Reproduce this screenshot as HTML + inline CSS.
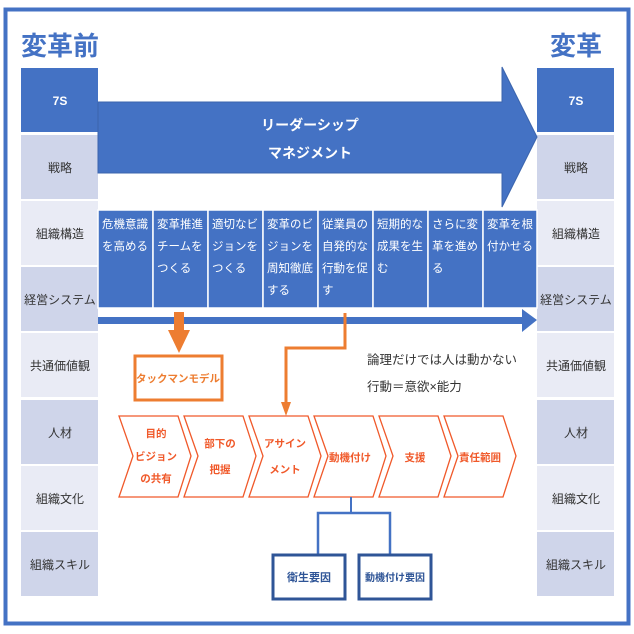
<!DOCTYPE html>
<html><head><meta charset="utf-8"><style>
html,body{margin:0;padding:0;background:#fff;width:634px;height:634px;overflow:hidden}
text{font-family:"Liberation Sans","Noto Sans CJK JP",sans-serif}
</style></head><body>
<svg width="634" height="634" viewBox="0 0 634 634" xmlns="http://www.w3.org/2000/svg">
<rect x="5.5" y="9.5" width="623" height="614" fill="#fff" stroke="#4472c4" stroke-width="4"/>
<text x="60" y="55" font-size="26" font-weight="bold" fill="#4472c4" text-anchor="middle">変革前</text>
<text x="576" y="55" font-size="26" font-weight="bold" fill="#4472c4" text-anchor="middle">変革</text>
<g font-size="12" fill="#333" text-anchor="middle">
<rect x="21" y="68" width="77" height="64" fill="#4472c4"/>
<rect x="21" y="135" width="77" height="64" fill="#cfd5ea"/>
<rect x="21" y="201" width="77" height="64" fill="#e9ebf5"/>
<rect x="21" y="267" width="77" height="64" fill="#cfd5ea"/>
<rect x="21" y="333" width="77" height="64" fill="#e9ebf5"/>
<rect x="21" y="400" width="77" height="64" fill="#cfd5ea"/>
<rect x="21" y="466" width="77" height="64" fill="#e9ebf5"/>
<rect x="21" y="532" width="77" height="64" fill="#cfd5ea"/>
<rect x="537" y="68" width="77" height="64" fill="#4472c4"/>
<rect x="537" y="135" width="77" height="64" fill="#cfd5ea"/>
<rect x="537" y="201" width="77" height="64" fill="#e9ebf5"/>
<rect x="537" y="267" width="77" height="64" fill="#cfd5ea"/>
<rect x="537" y="333" width="77" height="64" fill="#e9ebf5"/>
<rect x="537" y="400" width="77" height="64" fill="#cfd5ea"/>
<rect x="537" y="466" width="77" height="64" fill="#e9ebf5"/>
<rect x="537" y="532" width="77" height="64" fill="#cfd5ea"/>
<text x="60" y="105" fill="#fff" font-weight="bold">7S</text>
<text x="60" y="172">戦略</text>
<text x="60" y="238">組織構造</text>
<text x="60" y="304">経営システム</text>
<text x="60" y="370">共通価値観</text>
<text x="60" y="437">人材</text>
<text x="60" y="503">組織文化</text>
<text x="60" y="569">組織スキル</text>
<text x="576" y="105" fill="#fff" font-weight="bold">7S</text>
<text x="576" y="172">戦略</text>
<text x="576" y="238">組織構造</text>
<text x="576" y="304">経営システム</text>
<text x="576" y="370">共通価値観</text>
<text x="576" y="437">人材</text>
<text x="576" y="503">組織文化</text>
<text x="576" y="569">組織スキル</text>
</g>
<polygon points="98,102 502,102 502,67 537,137 502,207 502,173 98,173" fill="#4472c4" stroke="#3b64ad" stroke-width="1"/>
<text x="310" y="130" font-size="14" font-weight="bold" fill="#fff" text-anchor="middle">リーダーシップ</text>
<text x="310" y="158" font-size="14" font-weight="bold" fill="#fff" text-anchor="middle">マネジメント</text>
<g fill="#4472c4" stroke="#fff" stroke-width="1.5">
<rect x="98" y="210" width="55" height="98"/><rect x="153" y="210" width="55" height="98"/>
<rect x="208" y="210" width="55" height="98"/><rect x="263" y="210" width="55" height="98"/>
<rect x="318" y="210" width="55" height="98"/><rect x="373" y="210" width="55" height="98"/>
<rect x="428" y="210" width="55" height="98"/><rect x="483" y="210" width="54" height="98"/>
</g>
<g font-size="11.5" fill="#fff">
<text x="102" y="228">危機意識</text><text x="102" y="250">を高める</text>
<text x="157" y="228">変革推進</text><text x="157" y="250">チームを</text><text x="157" y="272">つくる</text>
<text x="212" y="228">適切なビ</text><text x="212" y="250">ジョンを</text><text x="212" y="272">つくる</text>
<text x="267" y="228">変革のビ</text><text x="267" y="250">ジョンを</text><text x="267" y="272">周知徹底</text><text x="267" y="294">する</text>
<text x="322" y="228">従業員の</text><text x="322" y="250">自発的な</text><text x="322" y="272">行動を促</text><text x="322" y="294">す</text>
<text x="377" y="228">短期的な</text><text x="377" y="250">成果を生</text><text x="377" y="272">む</text>
<text x="432" y="228">さらに変</text><text x="432" y="250">革を進め</text><text x="432" y="272">る</text>
<text x="487" y="228">変革を根</text><text x="487" y="250">付かせる</text>
</g>
<polygon points="98,317 522,317 522,309 537,320 522,332 522,324 98,324" fill="#4472c4"/>
<polygon points="174,312 184,312 184,330 190,330 179,353 168,330 174,330" fill="#ed7d31"/>
<rect x="135" y="356" width="87" height="44" fill="#fff" stroke="#ed7d31" stroke-width="3"/>
<text x="178" y="382" font-size="10.5" font-weight="bold" fill="#ed7d31" text-anchor="middle">タックマンモデル</text>
<polyline points="345,313 345,348 286,348 286,405" fill="none" stroke="#ed7d31" stroke-width="3"/>
<polygon points="281,402 291,402 286,416" fill="#ed7d31"/>
<text x="367" y="364" font-size="12.5" fill="#333">論理だけでは人は動かない</text>
<text x="367" y="391" font-size="12.5" fill="#333">行動＝意欲×能力</text>
<g fill="#fff" stroke="#f0592a" stroke-width="1.3">
<polygon points="119,416 178,416 191,456 178,497 119,497 133,456"/>
<polygon points="184,416 243,416 256,456 243,497 184,497 198,456"/>
<polygon points="249,416 308,416 321,456 308,497 249,497 263,456"/>
<polygon points="314,416 373,416 386,456 373,497 314,497 328,456"/>
<polygon points="379,416 438,416 451,456 438,497 379,497 393,456"/>
<polygon points="444,416 503,416 516,456 503,497 444,497 458,456"/>
</g>
<g font-size="10.5" font-weight="bold" fill="#f0592a" text-anchor="middle">
<text x="156" y="437">目的</text><text x="156" y="460">ビジョン</text><text x="156" y="482">の共有</text>
<text x="220" y="447">部下の</text><text x="220" y="473">把握</text>
<text x="285" y="447">アサイン</text><text x="285" y="473">メント</text>
<text x="350" y="461">動機付け</text>
<text x="415" y="461">支援</text>
<text x="480" y="461">責任範囲</text>
</g>
<polyline points="351,497 351,513" fill="none" stroke="#4472c4" stroke-width="2"/>
<polyline points="318,555 318,513 390,513 390,555" fill="none" stroke="#4472c4" stroke-width="2.5"/>
<rect x="273" y="555" width="72" height="44" fill="#fff" stroke="#2f5597" stroke-width="3"/>
<rect x="359" y="555" width="72" height="44" fill="#fff" stroke="#2f5597" stroke-width="3"/>
<text x="309" y="581" font-size="11" font-weight="bold" fill="#2f5597" text-anchor="middle">衛生要因</text>
<text x="395" y="581" font-size="10" font-weight="bold" fill="#2f5597" text-anchor="middle">動機付け要因</text>
</svg>
</body></html>
